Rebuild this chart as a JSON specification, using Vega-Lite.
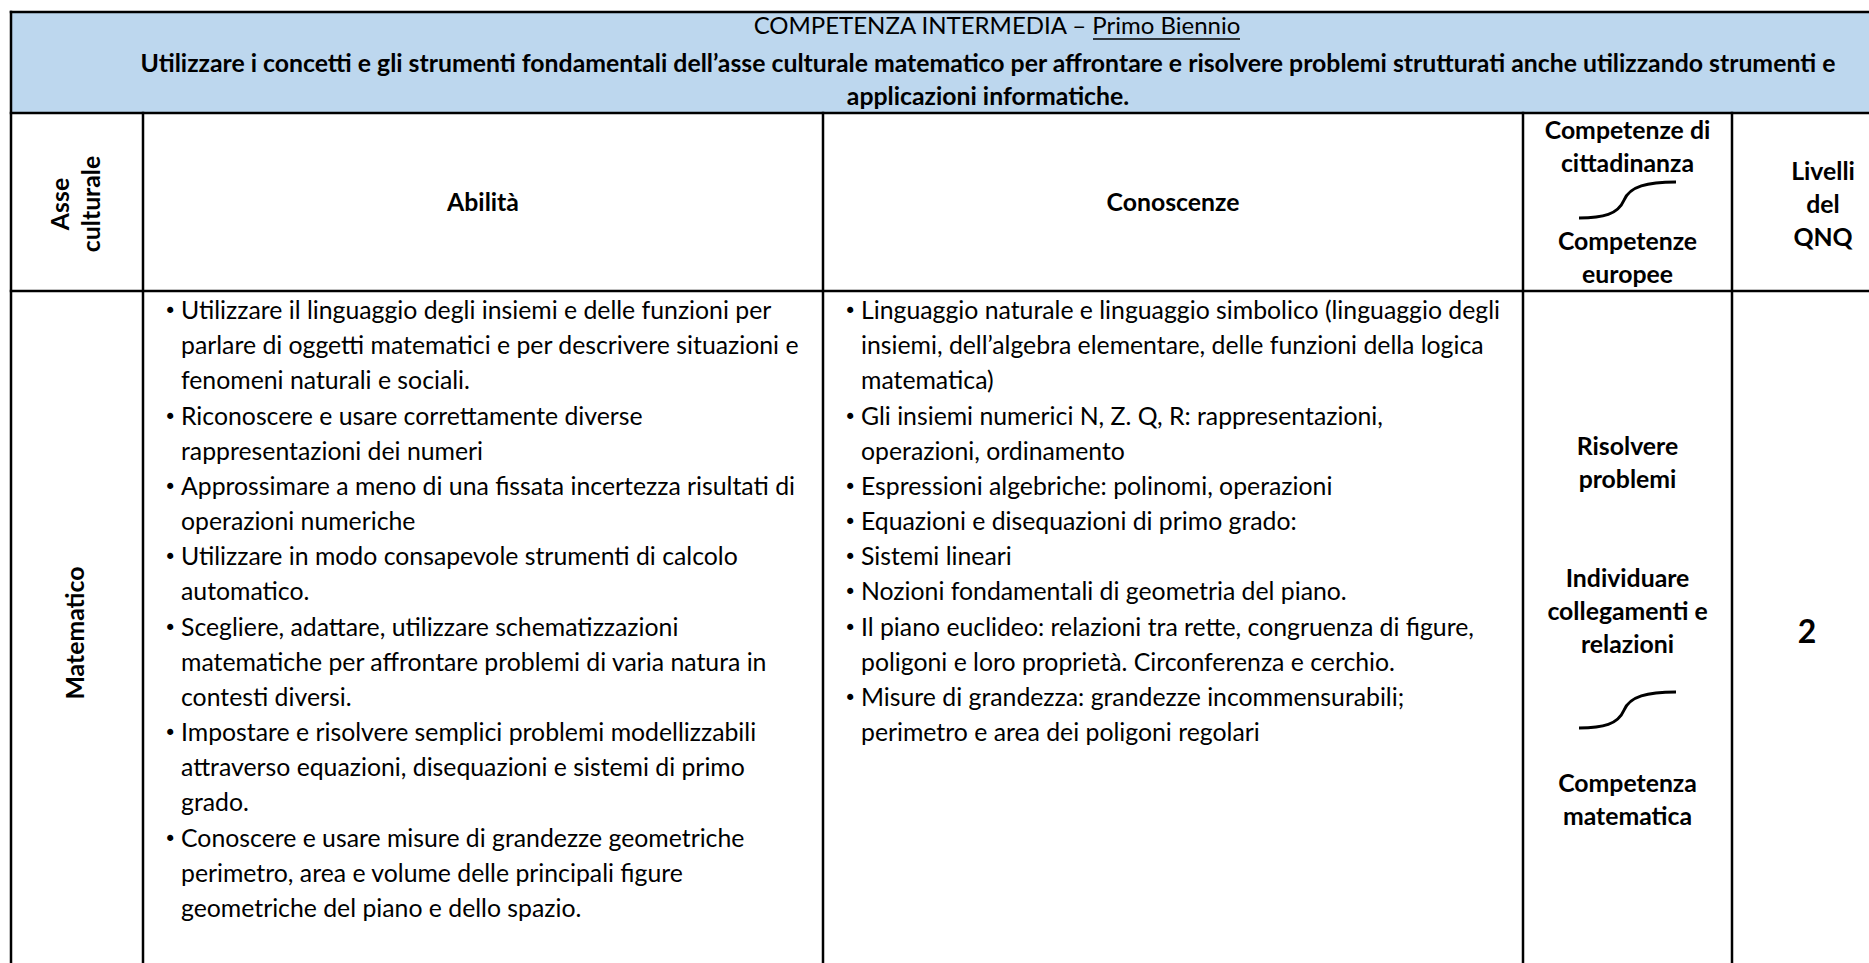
{
  "$schema": "https://vega.github.io/schema/vega-lite/v6.json",
  "width": 1869,
  "height": 963,
  "padding": 0,
  "autosize": {"type": "none"},
  "background": "white",
  "config": {"view": {"stroke": null}, "font": "Lato"},
  "datasets": {
    "grid": [
      {"role": "fill", "c": 0, "c2": 5, "r": 0, "r2": 1},
      {"role": "border", "c": 0, "c2": 5, "r": 0, "r2": 0},
      {"role": "border", "c": 0, "c2": 5, "r": 1, "r2": 1},
      {"role": "border", "c": 0, "c2": 5, "r": 2, "r2": 2},
      {"role": "border", "c": 0, "c2": 0, "r": 0, "r2": 3},
      {"role": "border", "c": 1, "c2": 1, "r": 1, "r2": 3},
      {"role": "border", "c": 2, "c2": 2, "r": 1, "r2": 3},
      {"role": "border", "c": 3, "c2": 3, "r": 1, "r2": 3},
      {"role": "border", "c": 4, "c2": 4, "r": 1, "r2": 3},
      {"role": "border", "c": 5, "c2": 5, "r": 0, "r2": 3}
    ],
    "lines": [
      {"c": 1, "line": 1, "bullet": true, "text": "Utilizzare il linguaggio degli insiemi e delle funzioni per"},
      {"c": 1, "line": 2, "bullet": false, "text": "parlare di oggetti matematici e per descrivere situazioni e"},
      {"c": 1, "line": 3, "bullet": false, "text": "fenomeni naturali e sociali."},
      {"c": 1, "line": 4, "bullet": true, "text": "Riconoscere e usare correttamente diverse"},
      {"c": 1, "line": 5, "bullet": false, "text": "rappresentazioni dei  numeri"},
      {"c": 1, "line": 6, "bullet": true, "text": "Approssimare a meno di una fissata incertezza risultati di"},
      {"c": 1, "line": 7, "bullet": false, "text": "operazioni numeriche"},
      {"c": 1, "line": 8, "bullet": true, "text": "Utilizzare in modo consapevole strumenti di calcolo"},
      {"c": 1, "line": 9, "bullet": false, "text": "automatico."},
      {"c": 1, "line": 10, "bullet": true, "text": "Scegliere, adattare, utilizzare schematizzazioni"},
      {"c": 1, "line": 11, "bullet": false, "text": "matematiche per affrontare problemi di varia natura in"},
      {"c": 1, "line": 12, "bullet": false, "text": "contesti diversi."},
      {"c": 1, "line": 13, "bullet": true, "text": "Impostare e risolvere semplici problemi modellizzabili"},
      {"c": 1, "line": 14, "bullet": false, "text": "attraverso equazioni, disequazioni e sistemi di primo"},
      {"c": 1, "line": 15, "bullet": false, "text": "grado."},
      {"c": 1, "line": 16, "bullet": true, "text": "Conoscere e usare misure di grandezze geometriche"},
      {"c": 1, "line": 17, "bullet": false, "text": "perimetro, area e volume delle principali figure"},
      {"c": 1, "line": 18, "bullet": false, "text": "geometriche del piano e dello spazio."},
      {"c": 2, "line": 1, "bullet": true, "text": "Linguaggio naturale e linguaggio simbolico (linguaggio degli"},
      {"c": 2, "line": 2, "bullet": false, "text": "insiemi, dell’algebra elementare, delle funzioni della logica"},
      {"c": 2, "line": 3, "bullet": false, "text": "matematica)"},
      {"c": 2, "line": 4, "bullet": true, "text": "Gli insiemi numerici N, Z. Q, R: rappresentazioni,"},
      {"c": 2, "line": 5, "bullet": false, "text": "operazioni, ordinamento"},
      {"c": 2, "line": 6, "bullet": true, "text": "Espressioni algebriche: polinomi, operazioni"},
      {"c": 2, "line": 7, "bullet": true, "text": "Equazioni e disequazioni di primo grado:"},
      {"c": 2, "line": 8, "bullet": true, "text": "\u00a0Sistemi lineari"},
      {"c": 2, "line": 9, "bullet": true, "text": "Nozioni fondamentali di geometria del piano."},
      {"c": 2, "line": 10, "bullet": true, "text": "Il piano euclideo: relazioni tra rette, congruenza di figure,"},
      {"c": 2, "line": 11, "bullet": false, "text": "poligoni e loro proprietà. Circonferenza e cerchio."},
      {"c": 2, "line": 12, "bullet": true, "text": "Misure di grandezza: grandezze incommensurabili;"},
      {"c": 2, "line": 13, "bullet": false, "text": "perimetro e area dei poligoni regolari"}
    ],
    "labels": [
      {"role": "title", "cx": 6, "cy": 0, "text": "COMPETENZA INTERMEDIA – Primo Biennio"},
      {"role": "underline", "cx": 6, "cy": 0, "text": "Primo Biennio"},
      {"role": "heading", "cx": 8, "cy": 1, "text": "Utilizzare i concetti e gli strumenti fondamentali dell’asse culturale matematico per affrontare e risolvere problemi strutturati anche utilizzando strumenti e\napplicazioni informatiche."},
      {"role": "rotated", "cx": 7, "cy": 4, "text": "Asse\nculturale"},
      {"role": "heading", "cx": 1, "cy": 4, "text": "Abilità"},
      {"role": "heading", "cx": 2, "cy": 4, "text": "Conoscenze"},
      {"role": "heading", "cx": 3, "cy": 2, "text": "Competenze di\ncittadinanza"},
      {"role": "arrow", "cx": 3, "cy": 3, "text": ""},
      {"role": "heading", "cx": 3, "cy": 6, "text": "Competenze\neuropee"},
      {"role": "heading", "cx": 4, "cy": 5, "text": "Livelli\ndel\nQNQ"},
      {"role": "rotated", "cx": 0, "cy": 8, "text": "Matematico"},
      {"role": "heading", "cx": 3, "cy": 7, "text": "Risolvere\nproblemi"},
      {"role": "heading", "cx": 3, "cy": 12, "text": "Individuare\ncollegamenti e\nrelazioni"},
      {"role": "arrow", "cx": 3, "cy": 10, "text": ""},
      {"role": "heading", "cx": 3, "cy": 11, "text": "Competenza\nmatematica"},
      {"role": "level", "cx": 5, "cy": 9, "text": "2"}
    ]
  },
  "layer": [
    {
      "data": {"name": "grid"},
      "encoding": {
        "x": {"field": "c", "type": "quantitative", "axis": null, "scale": {"domain": [0, 1, 2, 3, 4, 5], "range": [11, 143, 823, 1523, 1732, 1914], "nice": false, "zero": false}},
        "x2": {"field": "c2"},
        "y": {"field": "r", "type": "quantitative", "axis": null, "scale": {"domain": [0, 1, 2, 3], "range": [12, 113, 291, 985], "nice": false, "zero": false}},
        "y2": {"field": "r2"}
      },
      "layer": [
        {"transform": [{"filter": "datum.role === 'fill'"}], "mark": {"type": "rect", "fill": "#BDD7EE", "strokeWidth": 0}},
        {"transform": [{"filter": "datum.role === 'border'"}], "mark": {"type": "rule", "stroke": "#000000", "strokeWidth": 2.5, "strokeCap": "square"}}
      ]
    },
    {
      "data": {"name": "lines"},
      "encoding": {
        "x": {"field": "c", "type": "quantitative", "axis": null, "scale": {"domain": [0, 1, 2, 3, 4, 5], "range": [11, 143, 823, 1523, 1732, 1914], "nice": false, "zero": false}},
        "y": {"field": "line", "type": "quantitative", "axis": null, "scale": {"domain": [1, 18], "range": [312, 910], "nice": false, "zero": false}}
      },
      "layer": [
        {"mark": {"type": "text", "align": "left", "baseline": "middle", "dx": 38, "font": "Lato", "fontSize": 24.8, "color": "#000000"}, "encoding": {"text": {"field": "text", "type": "nominal"}}},
        {"transform": [{"filter": "datum.bullet"}], "mark": {"type": "text", "text": "•", "align": "left", "baseline": "middle", "dx": 21, "font": "DejaVu Sans", "fontSize": 21, "color": "#000000"}}
      ]
    },
    {
      "data": {"name": "labels"},
      "encoding": {
        "x": {"field": "cx", "type": "quantitative", "axis": null, "scale": {"domain": [0, 1, 2, 3, 4, 5, 6, 7, 8], "range": [77, 483, 1173, 1627.5, 1823, 1807, 997, 62, 988], "nice": false, "zero": false}},
        "y": {"field": "cy", "type": "quantitative", "axis": null, "scale": {"domain": [0, 1, 2, 3, 4, 5, 6, 7, 8, 9, 10, 11, 12], "range": [27, 65, 132, 200, 204, 173, 243, 448, 633, 633, 710, 785, 580], "nice": false, "zero": false}}
      },
      "layer": [
        {"transform": [{"filter": "datum.role === 'title'"}], "mark": {"type": "text", "align": "center", "baseline": "middle", "font": "Lato", "fontSize": 24, "color": "#000000"}, "encoding": {"text": {"field": "text", "type": "nominal"}}},
        {"transform": [{"filter": "datum.role === 'underline'"}], "mark": {"type": "rule", "stroke": "#000000", "strokeWidth": 1.5, "xOffset": 96, "x2Offset": 243, "yOffset": 12, "y2Offset": 12}, "encoding": {"x2": {"field": "cx"}, "y2": {"field": "cy"}}},
        {"transform": [{"filter": "datum.role === 'heading'"}], "mark": {"type": "text", "align": "center", "baseline": "middle", "font": "Lato", "fontWeight": "bold", "fontSize": 24.8, "lineBreak": "\n", "lineHeight": 33, "color": "#000000"}, "encoding": {"text": {"field": "text", "type": "nominal"}}},
        {"transform": [{"filter": "datum.role === 'rotated'"}], "mark": {"type": "text", "align": "center", "baseline": "middle", "angle": 270, "font": "Lato", "fontWeight": "bold", "fontSize": 24.8, "lineBreak": "\n", "lineHeight": 31, "color": "#000000"}, "encoding": {"text": {"field": "text", "type": "nominal"}}},
        {"transform": [{"filter": "datum.role === 'level'"}], "mark": {"type": "text", "align": "center", "baseline": "middle", "font": "Lato", "fontWeight": "bold", "fontSize": 32, "color": "#000000"}, "encoding": {"text": {"field": "text", "type": "nominal"}}},
        {"transform": [{"filter": "datum.role === 'arrow'"}], "mark": {"type": "point", "shape": "M-1,0.37 C-0.5,0.37 -0.2,0.3 -0.07,0 C0.05,-0.28 0.4,-0.37 1,-0.37", "size": 9409, "filled": false, "stroke": "#000000", "strokeWidth": 3, "opacity": 1}}
      ]
    }
  ],
  "resolve": {"scale": {"x": "independent", "y": "independent"}}
}
